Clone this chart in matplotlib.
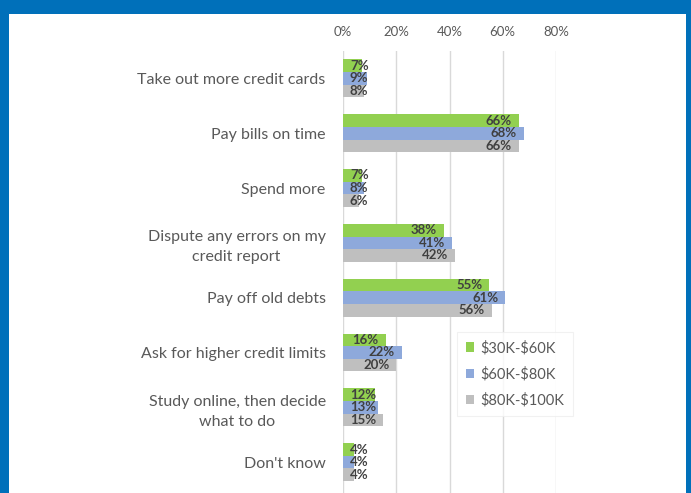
import matplotlib.pyplot as plt
from matplotlib.patches import Rectangle
import numpy as np

plt.rcParams['font.family'] = ['Lato', 'DejaVu Sans']

categories = ['Take out more credit cards', 'Pay bills on time', 'Spend more',
              'Dispute any errors on my\ncredit report', 'Pay off old debts',
              'Ask for higher credit limits', 'Study online, then decide\nwhat to do',
              "Don't know"]
income_30_60 = [7, 66, 7, 38, 55, 16, 12, 4]
income_60_80 = [9, 68, 8, 41, 61, 22, 13, 4]
income_80_100 = [8, 66, 6, 42, 56, 20, 15, 4]
series_names = [r'\$30K-\$60K', r'\$60K-\$80K', r'\$80K-\$100K']
colors = ['#92D050', '#8EA9DB', '#BFBFBF']
xticks = [0, 20, 40, 60, 80]

W, H = 691, 493
fig = plt.figure(figsize=(W / 100, H / 100), dpi=100)
fig.patch.set_facecolor('white')
# blue frame on top, left and right
blue = '#0070BA'
for x0, y0, w, hh in [(0, H - 14, W, 14), (0, 0, 9, H), (686, 0, W - 686, H)]:
    fig.patches.append(Rectangle((x0 / W, y0 / H), w / W, hh / H,
                                 transform=fig.transFigure, facecolor=blue,
                                 edgecolor='none', zorder=5))

ax = fig.add_axes([343 / W, -2 / H, (556 - 343) / W, (495 - 51) / H])
ax.set_facecolor('none')
ax.set_xlim(0, 80)
ax.set_ylim(7.6, -0.5)

y = np.arange(len(categories))
h = 0.23
series = [income_30_60, income_60_80, income_80_100]
for i, (vals, c, name) in enumerate(zip(series, colors, series_names)):
    ax.barh(y + (i - 1) * h, vals, height=h, color=c, label=name, zorder=2)

ax.set_xticks(xticks)
ax.set_xticklabels([f'{t}%' for t in xticks], color='#595959', fontsize=9.5)
ax.xaxis.tick_top()
ax.tick_params(axis='x', length=0, pad=9)
ax.set_yticks(y)
ax.set_yticklabels(categories, color='#595959', fontsize=11.5,
                   multialignment='center', linespacing=1.55)
ax.tick_params(axis='y', length=0, pad=12.5)
ax.grid(axis='x', color='#D9D9D9', linewidth=1, zorder=1)
ax.set_axisbelow(True)
for s in ax.spines.values():
    s.set_visible(False)

# value labels at the inner end of each bar, pushed right when the bar is short
fig.canvas.draw()
renderer = fig.canvas.get_renderer()
px_per_unit = ax.transData.transform((1, 0))[0] - ax.transData.transform((0, 0))[0]
pad = 7 / px_per_unit
for i, vals in enumerate(series):
    for yi, v in zip(y, vals):
        t = ax.text(0, yi + (i - 1) * h, f'{v}%', ha='right', va='center',
                    fontsize=9.5, fontweight='bold', color='#404040', zorder=3)
        w = t.get_window_extent(renderer).width / px_per_unit
        t.set_x(max(v - pad, pad + w))

leg = ax.legend(loc='upper left', bbox_to_anchor=(457 / W, 1 - 332 / H),
                bbox_transform=fig.transFigure, frameon=True, fontsize=10.5,
                handlelength=0.6, handleheight=0.6, handletextpad=0.4,
                labelspacing=0.8, borderpad=0.6, fancybox=False, borderaxespad=0)
leg.get_frame().set_edgecolor('#EEEEEE')
leg.get_frame().set_linewidth(0.8)
for txt in leg.get_texts():
    txt.set_color('#595959')

fig.savefig('out.png', dpi=100)
